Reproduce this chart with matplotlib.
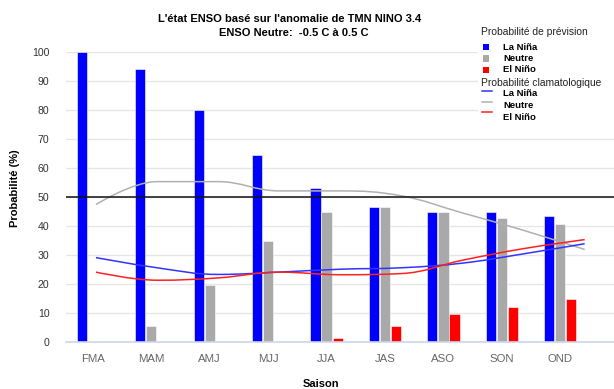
import numpy as np
import matplotlib
matplotlib.use('Agg')
import matplotlib.pyplot as plt
from matplotlib.path import Path
from matplotlib.patches import PathPatch, Rectangle
from matplotlib.lines import Line2D

# ---- data ----
seasons = ['FMA', 'MAM', 'AMJ', 'MJJ', 'JJA', 'JAS', 'ASO', 'SON', 'OND']
prob_nina = [100, 94, 80, 64.6, 53, 46.5, 44.8, 45, 43.5]
prob_neutre = [0, 5.6, 19.5, 34.7, 44.8, 46.5, 45, 42.8, 40.6]
prob_nino = [0, 0, 0, 0, 1.5, 5.6, 9.8, 12, 14.8]
clim_nina = [29.1, 25.6, 23.3, 24.1, 25.1, 25.6, 27.2, 30.4, 33.9]
clim_neutre = [47.4, 55.3, 55.3, 52.1, 52.1, 50.4, 44.5, 38.5, 31.9]
clim_nino = [24.1, 21.3, 22.1, 24.1, 23.2, 23.6, 28.2, 32.2, 35.3]
yticks = [0, 10, 20, 30, 40, 50, 60, 70, 80, 90, 100]
threshold = 50

SANS = ['Liberation Sans', 'DejaVu Sans']

BLUE = '#0000ff'
GREY = '#a9a9a9'
RED = '#ff0000'


def spline_path(xs, ys, smoothing=1.5):
    n = len(xs)
    denom = smoothing + 1
    left = [None] * n
    right = [None] * n
    for i in range(1, n - 1):
        px, py = xs[i - 1], ys[i - 1]
        x, y = xs[i], ys[i]
        nx, ny = xs[i + 1], ys[i + 1]
        lcx = (smoothing * x + px) / denom
        lcy = (smoothing * y + py) / denom
        rcx = (smoothing * x + nx) / denom
        rcy = (smoothing * y + ny) / denom
        if rcx != lcx:
            corr = ((rcy - lcy) * (rcx - x)) / (rcx - lcx) + y - rcy
            lcy += corr
            rcy += corr
        if lcy > py and lcy > y:
            lcy = max(py, y); rcy = 2 * y - lcy
        elif lcy < py and lcy < y:
            lcy = min(py, y); rcy = 2 * y - lcy
        if rcy > ny and rcy > y:
            rcy = max(ny, y); lcy = 2 * y - rcy
        elif rcy < ny and rcy < y:
            rcy = min(ny, y); lcy = 2 * y - rcy
        left[i] = (lcx, lcy)
        right[i] = (rcx, rcy)
    verts = [(xs[0], ys[0])]
    codes = [Path.MOVETO]
    for i in range(1, n):
        c1 = right[i - 1] if right[i - 1] is not None else (xs[i - 1], ys[i - 1])
        c2 = left[i] if left[i] is not None else (xs[i], ys[i])
        verts += [c1, c2, (xs[i], ys[i])]
        codes += [Path.CURVE4] * 3
    return Path(verts, codes)


W, H = 614, 389
fig = plt.figure(figsize=(W / 100, H / 100), dpi=100)
ax = fig.add_axes([66 / W, 1 - 342 / H, (W - 66) / W, 290 / H])

x = np.arange(len(seasons))
bw = 0.175
off = 0.189
ax.bar(x - off, prob_nina, bw, color=BLUE, edgecolor='white', linewidth=0.4, zorder=2)
ax.bar(x, prob_neutre, bw, color=GREY, edgecolor='white', linewidth=0.4, zorder=2)
ax.bar(x + off, prob_nino, bw, color=RED, edgecolor='white', linewidth=0.4, zorder=2)

line_x = 0.051 + np.arange(len(seasons)) * 1.046
for vals, col, lw in [(clim_neutre, '#b0b0b0', 1.1), (clim_nina, '#3333ff', 1.1), (clim_nino, '#ff2020', 1.1)]:
    p = spline_path(list(line_x), list(vals))
    ax.add_patch(PathPatch(p, fill=False, edgecolor=col, lw=lw, zorder=4))

ax.axhline(threshold, color='#111111', lw=1.1, zorder=5)

ax.set_xlim(-0.462, 8.921)
ax.set_ylim(0, 100)
ax.set_yticks(yticks)
ax.set_xticks(x)
ax.set_xticklabels(seasons)
ax.yaxis.grid(True, color='#e6e6e6', lw=1, zorder=0)
ax.set_axisbelow(True)
for s in ['top', 'right', 'left']:
    ax.spines[s].set_visible(False)
ax.spines['bottom'].set_color('#ccd6eb')
ax.spines['bottom'].set_linewidth(1.2)
ax.tick_params(axis='y', length=0, pad=12, labelsize=7.6, labelcolor='#333333')
ax.tick_params(axis='x', length=0, pad=9, labelsize=8.2, labelcolor='#666666')
for lab in ax.get_yticklabels() + ax.get_xticklabels():
    lab.set_family(SANS)

# axis titles
fig.text(321 / W, 1 - 384 / H, 'Saison', ha='center', va='center', fontsize=8,
         fontweight='bold', family=SANS)
fig.text(15 / W, 1 - 188 / H, 'Probabilité (%)', ha='center', va='center', rotation=90,
         fontsize=8, fontweight='bold', family=SANS)

# title
fig.text(290 / W, 1 - 19 / H, "L'état ENSO basé sur l'anomalie de TMN NINO 3.4",
         ha='center', va='center', fontsize=8, fontweight='bold', family=SANS)
fig.text(294 / W, 1 - 32.5 / H, "ENSO Neutre:  -0.5 C à 0.5 C",
         ha='center', va='center', fontsize=8, fontweight='bold', family=SANS)

# legend
fig.patches.append(Rectangle((478 / W, 1 - 125 / H), (W - 478) / W, 105 / H,
                             transform=fig.transFigure, facecolor='white',
                             edgecolor='none', zorder=6))
fig.text(481 / W, 1 - 32 / H, 'Probabilité de prévision', ha='left', va='center',
         fontsize=7.4, family=SANS, color='#222222', zorder=7)
for yy, col, lab in [(47, BLUE, 'La Niña'), (58.5, GREY, 'Neutre'), (70, RED, 'El Niño')]:
    fig.patches.append(Rectangle((482.5 / W, 1 - (yy + 3.3) / H), 6.6 / W, 6.6 / H,
                                 transform=fig.transFigure, facecolor=col,
                                 edgecolor='none', zorder=7))
    fig.text(503 / W, 1 - yy / H, lab, ha='left', va='center', fontsize=6.8,
             fontweight='bold', family=SANS, zorder=7)
fig.text(481 / W, 1 - 83 / H, 'Probabilité clamatologique', ha='left', va='center',
         fontsize=7.4, family=SANS, color='#222222', zorder=7)
for yl, yt, col, lab in [(91, 93, '#3333ff', 'La Niña'), (102, 106, '#b0b0b0', 'Neutre'),
                         (112, 117.5, '#ff2020', 'El Niño')]:
    fig.lines.append(Line2D([482 / W, 492 / W], [1 - yl / H, 1 - yl / H],
                            transform=fig.transFigure, color=col, lw=1.1, zorder=7))
    fig.text(503 / W, 1 - yt / H, lab, ha='left', va='center', fontsize=6.8,
             fontweight='bold', family=SANS, zorder=7)

fig.savefig('out.png', dpi=100)
